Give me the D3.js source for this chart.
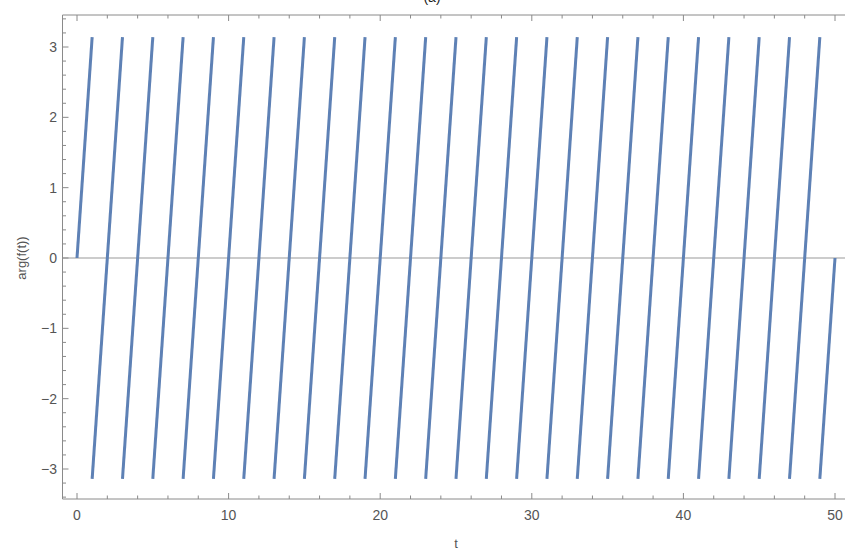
<!DOCTYPE html>
<html>
<head>
<meta charset="utf-8">
<script src="https://cdn.jsdelivr.net/npm/d3@7/dist/d3.min.js"></script>
<style>
  html, body { margin: 0; padding: 0; background: #fff; }
  svg { display: block; }
  text { font-family: "Liberation Sans", Arial, sans-serif; }
</style>
</head>
<body>
<svg id="chart" width="845" height="552"></svg>
<script>
// ---- data ----
const PI = 3.14159;
const segStart = [0, 1, 3, 5, 7, 9, 11, 13, 15, 17, 19, 21, 23, 25, 27, 29, 31, 33, 35, 37, 39, 41, 43, 45, 47, 49];
const segEnd   = [1, 3, 5, 7, 9, 11, 13, 15, 17, 19, 21, 23, 25, 27, 29, 31, 33, 35, 37, 39, 41, 43, 45, 47, 49, 50];
const startArg = [0, -PI, -PI, -PI, -PI, -PI, -PI, -PI, -PI, -PI, -PI, -PI, -PI, -PI, -PI, -PI, -PI, -PI, -PI, -PI, -PI, -PI, -PI, -PI, -PI, -PI];
const endArg   = [PI, PI, PI, PI, PI, PI, PI, PI, PI, PI, PI, PI, PI, PI, PI, PI, PI, PI, PI, PI, PI, PI, PI, PI, PI, 0];
const xTicks = [0, 10, 20, 30, 40, 50];
const yTicks = [-3, -2, -1, 0, 1, 2, 3];
const title = "(a)";
const xLabel = "t";
const yLabel = "arg(f(t))";

// ---- layout ----
(function () {
const svg = d3.select("#chart");
const fLeft = 62.5, fTop = 15, fBottom = 499, fRight = 850;
const x = d3.scaleLinear().domain([0, 50]).range([77, 835]);
const y = d3.scaleLinear().domain([0, 3]).range([258, 47]);

const frameColor = "#8a8a8a";
const labelColor = "#555";

// zero axis line
svg.append("line")
  .attr("x1", fLeft).attr("x2", fRight)
  .attr("y1", y(0)).attr("y2", y(0))
  .attr("stroke", "#999").attr("stroke-width", 1);

// data lines
const segs = segStart.map((s, i) => [[s, startArg[i]], [segEnd[i], endArg[i]]]);
const line = d3.line().x(d => x(d[0])).y(d => y(d[1]));
svg.append("g").selectAll("path").data(segs).join("path")
  .attr("d", line)
  .attr("fill", "none")
  .attr("stroke", "#5E81B5")
  .attr("stroke-width", 3)
  .attr("stroke-linecap", "butt");

// frame
const fg = svg.append("g");
fg.append("line").attr("x1", fLeft).attr("x2", fRight).attr("y1", fTop).attr("y2", fTop).attr("stroke", frameColor);
fg.append("line").attr("x1", fLeft).attr("x2", fRight).attr("y1", fBottom).attr("y2", fBottom).attr("stroke", frameColor);
fg.append("line").attr("x1", fLeft).attr("x2", fLeft).attr("y1", fTop).attr("y2", fBottom).attr("stroke", frameColor);

// x ticks (bottom & top)
const xMinor = d3.range(0, 51, 2).filter(v => !xTicks.includes(v));
xTicks.forEach(v => {
  fg.append("line").attr("x1", x(v)).attr("x2", x(v)).attr("y1", fBottom).attr("y2", fBottom - 6).attr("stroke", frameColor);
  fg.append("line").attr("x1", x(v)).attr("x2", x(v)).attr("y1", fTop).attr("y2", fTop + 6).attr("stroke", frameColor);
});
xMinor.forEach(v => {
  fg.append("line").attr("x1", x(v)).attr("x2", x(v)).attr("y1", fBottom).attr("y2", fBottom - 3.5).attr("stroke", frameColor);
  fg.append("line").attr("x1", x(v)).attr("x2", x(v)).attr("y1", fTop).attr("y2", fTop + 3.5).attr("stroke", frameColor);
});
// y ticks
const yMinor = d3.range(-34, 35, 2).filter(v => v % 10 !== 0).map(v => v / 10);
yTicks.forEach(v => {
  fg.append("line").attr("x1", fLeft).attr("x2", fLeft + 6).attr("y1", y(v)).attr("y2", y(v)).attr("stroke", frameColor);
});
yMinor.forEach(v => {
  fg.append("line").attr("x1", fLeft).attr("x2", fLeft + 3.5).attr("y1", y(v)).attr("y2", y(v)).attr("stroke", frameColor);
});

// tick labels
const fmt = v => v < 0 ? "\u2212" + Math.abs(v) : String(v);
svg.append("g").selectAll("text").data(xTicks).join("text")
  .attr("x", d => x(d)).attr("y", 520)
  .attr("text-anchor", "middle")
  .attr("font-size", 14).attr("fill", labelColor)
  .text(d => fmt(d));
svg.append("g").selectAll("text").data(yTicks).join("text")
  .attr("x", 57).attr("y", d => y(d) + 5)
  .attr("text-anchor", "end")
  .attr("font-size", 14).attr("fill", labelColor)
  .text(d => fmt(d));

// axis labels
svg.append("text").attr("x", 456).attr("y", 548).attr("text-anchor", "middle")
  .attr("font-size", 13).attr("fill", labelColor).text(xLabel);
svg.append("text").attr("transform", "translate(26,258) rotate(-90)").attr("text-anchor", "middle")
  .attr("font-size", 13).attr("fill", labelColor).text(yLabel);

// title (cut off at top)
svg.append("text").attr("x", 432).attr("y", 2).attr("text-anchor", "middle")
  .attr("font-size", 14).attr("fill", "#222").text(title);
})();
</script>
</body>
</html>
